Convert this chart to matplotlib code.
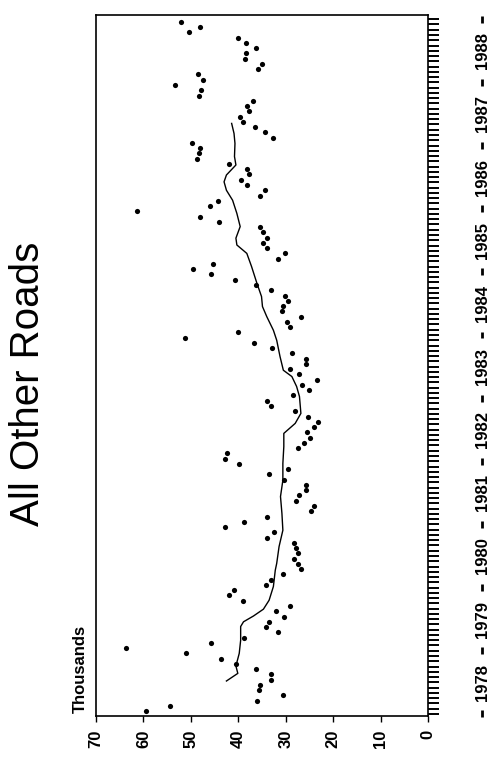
import matplotlib
matplotlib.use('Agg')
import matplotlib.pyplot as plt
import numpy as np
from matplotlib.transforms import blended_transform_factory

plt.rcParams['font.family'] = ['Liberation Sans', 'DejaVu Sans']

# ---------------- data ----------------
years = [1978, 1979, 1980, 1981, 1982, 1983, 1984, 1985, 1986, 1987, 1988]

# monthly values (thousands), Jan 1978 .. Dec 1988
monthly_values = [
    59.5, 54.4, 36.1, 30.5, 35.6, 35.4, 33.1, 33.0, 36.3, 40.5, 43.6, 51.1,
    63.7, 45.7, 38.7, 31.6, 34.1, 33.5, 30.3, 32.0, 29.2, 39.1, 41.9, 40.9,
    34.1, 33.2, 30.6, 26.8, 27.5, 28.2, 27.4, 27.8, 28.3, 33.9, 32.4, 42.9,
    38.7, 33.9, 24.7, 24.0, 27.8, 27.1, 25.7, 25.7, 30.3, 33.6, 29.5, 39.8,
    42.7, 42.4, 27.5, 26.2, 24.8, 25.5, 24.0, 23.2, 25.3, 28.0, 33.0, 33.9,
    28.4, 25.1, 26.5, 23.5, 27.3, 29.0, 25.7, 25.8, 28.6, 32.8, 36.7, 51.2,
    40.0, 29.2, 29.7, 26.7, 30.8, 30.5, 29.6, 30.1, 33.0, 36.3, 40.6, 45.7,
    49.5, 45.3, 31.7, 30.1, 34.0, 34.7, 33.9, 34.7, 35.4, 44.0, 48.1, 61.4,
    45.9, 44.2, 35.5, 34.4, 38.2, 39.4, 37.8, 38.2, 41.9, 48.6, 48.3, 48.1,
    49.7, 32.6, 34.3, 36.5, 39.0, 39.7, 37.7, 38.2, 37.0, 48.2, 47.8, 53.3,
    47.4, 48.4, 35.9, 35.0, 38.5, 38.4, 36.2, 38.3, 40.0, 50.4, 48.1, 52.1,
]

# trend line (month index from Jan 1978, value)
trend_month = [5.75, 7.2, 8.6, 11.0, 13.5, 16.1, 17.0, 18.1, 19.4, 21.1, 23.7,
               26.8, 28.1, 31.3, 34.4, 37.6, 40.8, 43.9, 47.1, 50.3, 52.8,
               54.7, 56.6, 59.8, 61.7, 63.6, 64.8, 67.4, 70.5, 72.4, 75.0,
               76.9, 78.8, 81.4, 84.5, 87.0, 88.6, 89.9, 92.1, 94.6, 97.1,
               99.0, 100.6, 101.9, 103.8, 105.4, 107.9, 109.8, 111.7]
trend_value = [42.5, 40.1, 40.5, 39.8, 39.5, 39.5, 38.9, 36.8, 34.7, 33.5, 32.6,
               32.2, 31.9, 31.4, 30.6, 30.8, 31.1, 30.6, 30.6, 30.4, 30.4,
               28.0, 26.8, 27.1, 27.7, 28.7, 30.5, 31.2, 31.9, 32.6, 34.0,
               34.9, 35.1, 36.1, 37.2, 38.2, 40.3, 40.5, 39.6, 40.3, 41.2,
               42.5, 43.0, 42.5, 40.5, 40.8, 40.7, 40.9, 41.4]

value_ticks = [0, 10, 20, 30, 40, 50, 60, 70]

# ---------------- figure ----------------
W, H = 501, 764
fig = plt.figure(figsize=(W / 100, H / 100), dpi=100)
ax = fig.add_axes([96 / W, 48 / H, 332 / W, 701 / H])

months = np.arange(len(monthly_values))
ax.scatter(monthly_values, months, s=14, c='black', linewidths=0, zorder=3)
ax.plot(trend_value, trend_month, color='black', lw=1.0, zorder=2)

ax.set_xlim(70, 0)
ax.set_ylim(-0.9, 132.3)

ax.set_xticks(value_ticks)
ax.set_xticklabels([str(v) for v in value_ticks], rotation=90,
                   fontsize=12, fontweight='bold')
ax.tick_params(axis='x', direction='out', length=4, width=1, pad=6)

ax.yaxis.tick_right()
ax.set_yticks(np.arange(-0.5, len(monthly_values) + 0.5, 1))
ax.set_yticklabels([])
ax.tick_params(axis='y', direction='out', length=8, width=1.4,
               right=True, left=False)

for sp in ax.spines.values():
    sp.set_linewidth(1.2)

# year labels and separators on the right
btr = blended_transform_factory(fig.transFigure, ax.transData)
xlab = 482 / W
for k, yr in enumerate(years):
    ax.text(xlab, 12 * k + 5.5, str(yr), transform=btr, rotation=90,
            ha='center', va='center', fontsize=12, fontweight='bold',
            clip_on=False)
for k in range(len(years) + 1):
    b = 12 * k - 0.5
    ax.plot([xlab, xlab], [b - 0.65, b + 0.65], transform=btr,
            color='black', lw=2, clip_on=False, solid_capstyle='butt')

fig.text(28 / W, 1 - 384 / H, 'All Other Roads', rotation=90,
         ha='center', va='center', fontsize=29)
fig.text(80 / W, 1 - 713 / H, 'Thousands', rotation=90,
         ha='center', va='bottom', fontsize=12, fontweight='bold')

fig.savefig('out.png', dpi=100)
